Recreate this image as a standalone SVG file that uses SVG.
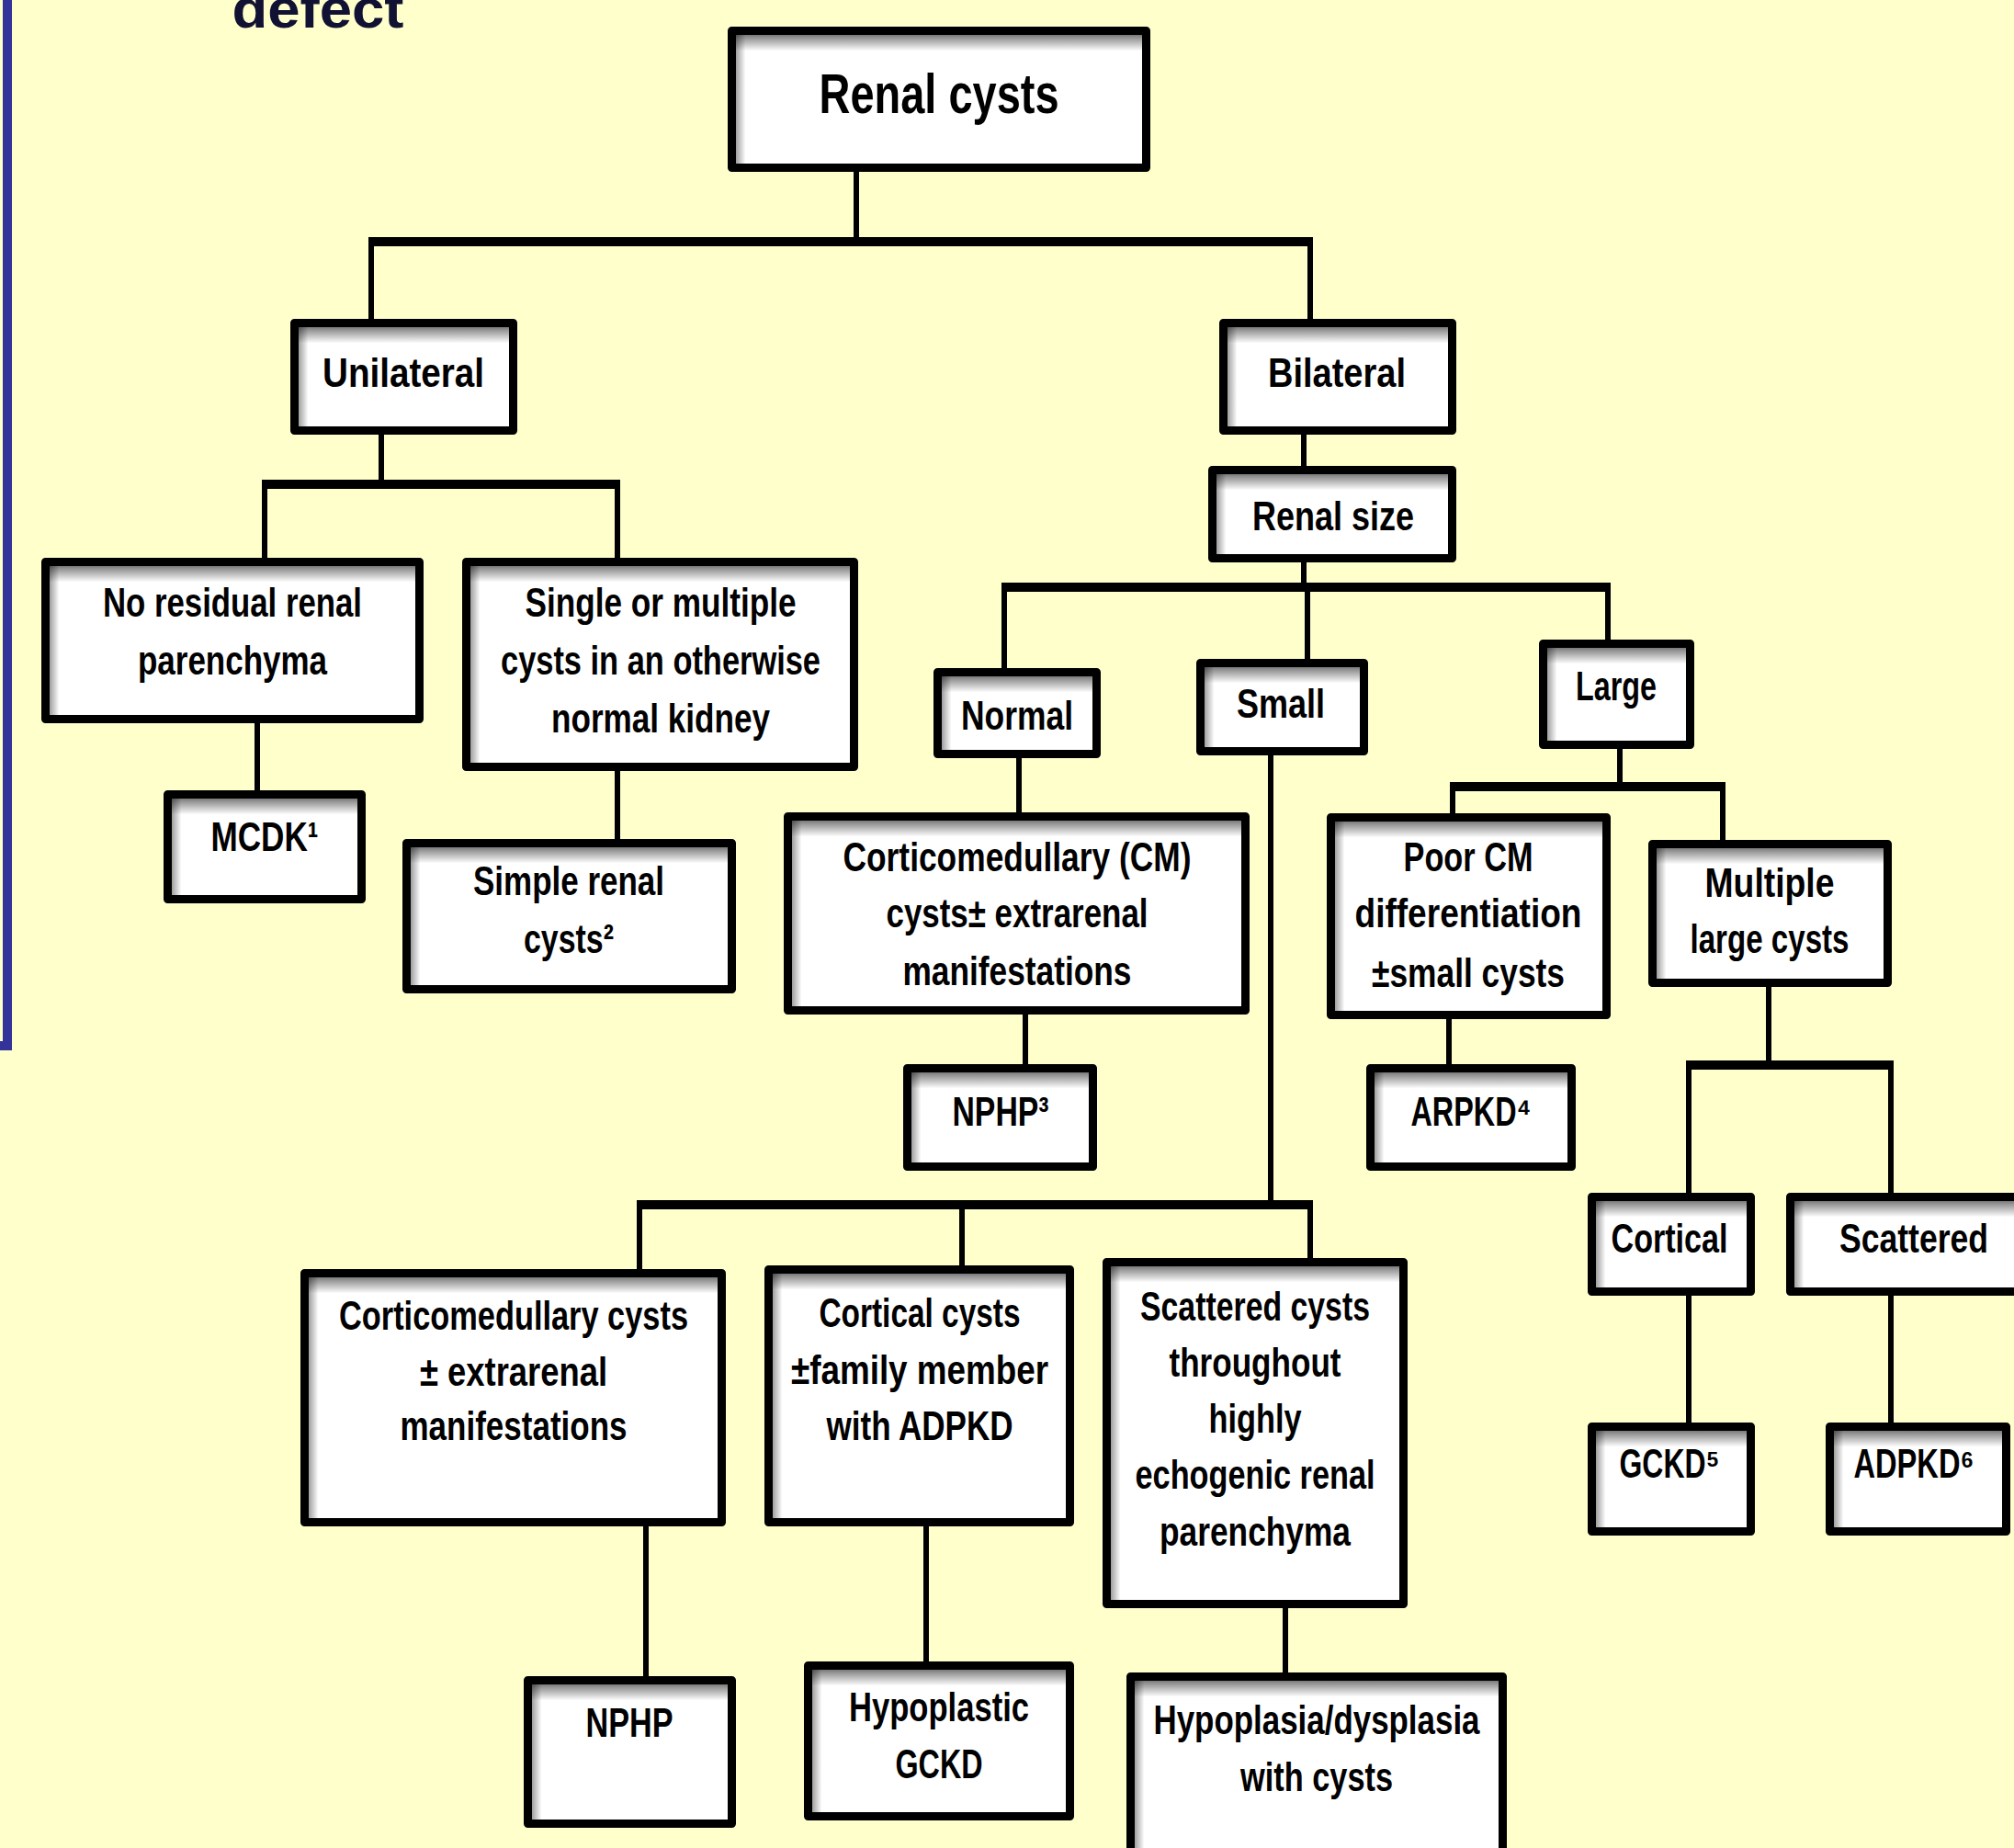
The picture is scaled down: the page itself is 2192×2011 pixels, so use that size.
<svg xmlns="http://www.w3.org/2000/svg" width="2192" height="2011" viewBox="0 0 2192 2011">
<style>
.bg{fill:#fff}
.st{fill:url(#gt)}
.sl{fill:url(#gl)}
.bd{fill:none;stroke:#000;stroke-width:9;stroke-linejoin:round}
.t{font-family:"Liberation Sans Narrow","Liberation Sans",Arial,sans-serif;font-weight:bold;font-size:45px;text-anchor:middle;fill:#000}
.big{font-size:62px}
.v{stroke:#000;stroke-width:6;fill:none}
.h{stroke:#000;stroke-width:10;fill:none}
</style>
<defs>
<linearGradient id="gt" x1="0" y1="0" x2="0" y2="1">
<stop offset="0" stop-color="#000" stop-opacity="0.7"/>
<stop offset="0.3" stop-color="#000" stop-opacity="0.45"/>
<stop offset="1" stop-color="#000" stop-opacity="0"/>
</linearGradient>
<linearGradient id="gl" x1="0" y1="0" x2="1" y2="0">
<stop offset="0" stop-color="#000" stop-opacity="0.6"/>
<stop offset="0.35" stop-color="#000" stop-opacity="0.35"/>
<stop offset="1" stop-color="#000" stop-opacity="0"/>
</linearGradient>
</defs>
<rect x="0" y="0" width="2192" height="2011" fill="#ffffcc"/>
<path d="M8,0 V1138 H0" fill="none" stroke="#333399" stroke-width="10"/>
<text x="346" y="30" font-family="Liberation Sans,Arial,sans-serif" font-weight="bold" font-size="60" text-anchor="middle" fill="#111133" textLength="187" lengthAdjust="spacingAndGlyphs">defect</text>

<g id="connectors">
<path class="v" d="M932,187 V263 M404,263 V347 M1426,263 V347"/>
<path class="h" d="M401,263 H1429"/>
<path class="v" d="M415,473 V527 M288,527 V607 M672,527 V607"/>
<path class="h" d="M285,527 H675"/>
<path class="v" d="M280,787 V860"/>
<path class="v" d="M672,839 V913"/>
<path class="v" d="M1419,473 V507"/>
<path class="v" d="M1419,612 V639 M1093,639 V727 M1423,639 V717 M1750,639 V700"/>
<path class="h" d="M1090,639 H1753"/>
<path class="v" d="M1109,825 V884"/>
<path class="v" d="M1116,1104 V1158"/>
<path class="v" d="M1383,822 V1311 M696,1311 V1381 M1047,1311 V1377 M1426,1311 V1373"/>
<path class="h" d="M693,1311 H1429"/>
<path class="v" d="M1763,815 V856 M1581,856 V885 M1875,856 V914"/>
<path class="h" d="M1578,856 H1878"/>
<path class="v" d="M1577,1109 V1158"/>
<path class="v" d="M1925,1074 V1159 M1838,1159 V1298 M2058,1159 V1298"/>
<path class="h" d="M1835,1159 H2061"/>
<path class="v" d="M1838,1410 V1548 M2058,1410 V1548"/>
<path class="v" d="M703,1661 V1824 M1008,1661 V1808 M1399,1750 V1820"/>
</g>

<g id="n-renal-cysts"><rect class="bg" x="796.5" y="33.5" width="451" height="149"/><rect class="st" x="796.5" y="33.5" width="451" height="22"/><rect class="sl" x="796.5" y="33.5" width="15" height="149"/><rect class="bd" x="796.5" y="33.5" width="451" height="149"/>
<text class="t big" x="1022" y="123" textLength="261" lengthAdjust="spacingAndGlyphs">Renal cysts</text></g>

<g id="n-unilateral"><rect class="bg" x="320.5" y="351.5" width="238" height="117"/><rect class="st" x="320.5" y="351.5" width="238" height="22"/><rect class="sl" x="320.5" y="351.5" width="15" height="117"/><rect class="bd" x="320.5" y="351.5" width="238" height="117"/>
<text class="t" x="439" y="421" textLength="176" lengthAdjust="spacingAndGlyphs">Unilateral</text></g>

<g id="n-no-residual"><rect class="bg" x="49.5" y="611.5" width="407" height="171"/><rect class="st" x="49.5" y="611.5" width="407" height="22"/><rect class="sl" x="49.5" y="611.5" width="15" height="171"/><rect class="bd" x="49.5" y="611.5" width="407" height="171"/>
<text class="t" x="253" y="671" textLength="282" lengthAdjust="spacingAndGlyphs">No residual renal</text>
<text class="t" x="253" y="734" textLength="206" lengthAdjust="spacingAndGlyphs">parenchyma</text></g>

<g id="n-mcdk"><rect class="bg" x="182.5" y="864.5" width="211" height="114"/><rect class="st" x="182.5" y="864.5" width="211" height="22"/><rect class="sl" x="182.5" y="864.5" width="15" height="114"/><rect class="bd" x="182.5" y="864.5" width="211" height="114"/>
<text class="t" x="288" y="926" textLength="117" lengthAdjust="spacingAndGlyphs">MCDK¹</text></g>

<g id="n-single-multiple"><rect class="bg" x="507.5" y="611.5" width="422" height="223"/><rect class="st" x="507.5" y="611.5" width="422" height="22"/><rect class="sl" x="507.5" y="611.5" width="15" height="223"/><rect class="bd" x="507.5" y="611.5" width="422" height="223"/>
<text class="t" x="719" y="671" textLength="295" lengthAdjust="spacingAndGlyphs">Single or multiple</text>
<text class="t" x="719" y="734" textLength="348" lengthAdjust="spacingAndGlyphs">cysts in an otherwise</text>
<text class="t" x="719" y="797" textLength="238" lengthAdjust="spacingAndGlyphs">normal kidney</text></g>

<g id="n-simple-renal"><rect class="bg" x="442.5" y="917.5" width="354" height="159"/><rect class="st" x="442.5" y="917.5" width="354" height="22"/><rect class="sl" x="442.5" y="917.5" width="15" height="159"/><rect class="bd" x="442.5" y="917.5" width="354" height="159"/>
<text class="t" x="619" y="974" textLength="208" lengthAdjust="spacingAndGlyphs">Simple renal</text>
<text class="t" x="619" y="1037" textLength="98" lengthAdjust="spacingAndGlyphs">cysts²</text></g>

<g id="n-bilateral"><rect class="bg" x="1331.5" y="351.5" width="249" height="117"/><rect class="st" x="1331.5" y="351.5" width="249" height="22"/><rect class="sl" x="1331.5" y="351.5" width="15" height="117"/><rect class="bd" x="1331.5" y="351.5" width="249" height="117"/>
<text class="t" x="1455" y="421" textLength="150" lengthAdjust="spacingAndGlyphs">Bilateral</text></g>

<g id="n-renal-size"><rect class="bg" x="1319.5" y="511.5" width="261" height="96"/><rect class="st" x="1319.5" y="511.5" width="261" height="22"/><rect class="sl" x="1319.5" y="511.5" width="15" height="96"/><rect class="bd" x="1319.5" y="511.5" width="261" height="96"/>
<text class="t" x="1451" y="577" textLength="176" lengthAdjust="spacingAndGlyphs">Renal size</text></g>

<g id="n-normal"><rect class="bg" x="1020.5" y="731.5" width="173" height="89"/><rect class="st" x="1020.5" y="731.5" width="173" height="22"/><rect class="sl" x="1020.5" y="731.5" width="15" height="89"/><rect class="bd" x="1020.5" y="731.5" width="173" height="89"/>
<text class="t" x="1107" y="794" textLength="122" lengthAdjust="spacingAndGlyphs">Normal</text></g>

<g id="n-cm-cysts"><rect class="bg" x="857.5" y="888.5" width="498" height="211"/><rect class="st" x="857.5" y="888.5" width="498" height="22"/><rect class="sl" x="857.5" y="888.5" width="15" height="211"/><rect class="bd" x="857.5" y="888.5" width="498" height="211"/>
<text class="t" x="1107" y="948" textLength="379" lengthAdjust="spacingAndGlyphs">Corticomedullary (CM)</text>
<text class="t" x="1107" y="1009" textLength="285" lengthAdjust="spacingAndGlyphs">cysts± extrarenal</text>
<text class="t" x="1107" y="1072" textLength="249" lengthAdjust="spacingAndGlyphs">manifestations</text></g>

<g id="n-nphp3"><rect class="bg" x="987.5" y="1162.5" width="202" height="107"/><rect class="st" x="987.5" y="1162.5" width="202" height="22"/><rect class="sl" x="987.5" y="1162.5" width="15" height="107"/><rect class="bd" x="987.5" y="1162.5" width="202" height="107"/>
<text class="t" x="1089" y="1225" textLength="105" lengthAdjust="spacingAndGlyphs">NPHP³</text></g>

<g id="n-small"><rect class="bg" x="1306.5" y="721.5" width="178" height="96"/><rect class="st" x="1306.5" y="721.5" width="178" height="22"/><rect class="sl" x="1306.5" y="721.5" width="15" height="96"/><rect class="bd" x="1306.5" y="721.5" width="178" height="96"/>
<text class="t" x="1394" y="781" textLength="96" lengthAdjust="spacingAndGlyphs">Small</text></g>

<g id="n-large"><rect class="bg" x="1679.5" y="700.5" width="160" height="110"/><rect class="st" x="1679.5" y="700.5" width="160" height="22"/><rect class="sl" x="1679.5" y="700.5" width="15" height="110"/><rect class="bd" x="1679.5" y="700.5" width="160" height="110"/>
<text class="t" x="1759" y="762" textLength="88" lengthAdjust="spacingAndGlyphs">Large</text></g>

<g id="n-poor-cm"><rect class="bg" x="1448.5" y="889.5" width="300" height="215"/><rect class="st" x="1448.5" y="889.5" width="300" height="22"/><rect class="sl" x="1448.5" y="889.5" width="15" height="215"/><rect class="bd" x="1448.5" y="889.5" width="300" height="215"/>
<text class="t" x="1598" y="948" textLength="141" lengthAdjust="spacingAndGlyphs">Poor CM</text>
<text class="t" x="1598" y="1009" textLength="247" lengthAdjust="spacingAndGlyphs">differentiation</text>
<text class="t" x="1598" y="1074" textLength="210" lengthAdjust="spacingAndGlyphs">±small cysts</text></g>

<g id="n-arpkd"><rect class="bg" x="1491.5" y="1162.5" width="219" height="107"/><rect class="st" x="1491.5" y="1162.5" width="219" height="22"/><rect class="sl" x="1491.5" y="1162.5" width="15" height="107"/><rect class="bd" x="1491.5" y="1162.5" width="219" height="107"/>
<text class="t" x="1601" y="1225" textLength="131" lengthAdjust="spacingAndGlyphs">ARPKD⁴</text></g>

<g id="n-multiple-large"><rect class="bg" x="1798.5" y="918.5" width="256" height="151"/><rect class="st" x="1798.5" y="918.5" width="256" height="22"/><rect class="sl" x="1798.5" y="918.5" width="15" height="151"/><rect class="bd" x="1798.5" y="918.5" width="256" height="151"/>
<text class="t" x="1926" y="976" textLength="141" lengthAdjust="spacingAndGlyphs">Multiple</text>
<text class="t" x="1926" y="1037" textLength="173" lengthAdjust="spacingAndGlyphs">large cysts</text></g>

<g id="n-cortical"><rect class="bg" x="1732.5" y="1302.5" width="173" height="103"/><rect class="st" x="1732.5" y="1302.5" width="173" height="22"/><rect class="sl" x="1732.5" y="1302.5" width="15" height="103"/><rect class="bd" x="1732.5" y="1302.5" width="173" height="103"/>
<text class="t" x="1817" y="1363" textLength="127" lengthAdjust="spacingAndGlyphs">Cortical</text></g>

<g id="n-scattered"><rect class="bg" x="1948.5" y="1302.5" width="260" height="103"/><rect class="st" x="1948.5" y="1302.5" width="260" height="22"/><rect class="sl" x="1948.5" y="1302.5" width="15" height="103"/><rect class="bd" x="1948.5" y="1302.5" width="260" height="103"/>
<text class="t" x="2083" y="1363" textLength="162" lengthAdjust="spacingAndGlyphs">Scattered</text></g>

<g id="n-gckd5"><rect class="bg" x="1732.5" y="1552.5" width="173" height="114"/><rect class="st" x="1732.5" y="1552.5" width="173" height="22"/><rect class="sl" x="1732.5" y="1552.5" width="15" height="114"/><rect class="bd" x="1732.5" y="1552.5" width="173" height="114"/>
<text class="t" x="1817" y="1608" textLength="109" lengthAdjust="spacingAndGlyphs">GCKD⁵</text></g>

<g id="n-adpkd6"><rect class="bg" x="1991.5" y="1552.5" width="192" height="114"/><rect class="st" x="1991.5" y="1552.5" width="192" height="22"/><rect class="sl" x="1991.5" y="1552.5" width="15" height="114"/><rect class="bd" x="1991.5" y="1552.5" width="192" height="114"/>
<text class="t" x="2083" y="1608" textLength="131" lengthAdjust="spacingAndGlyphs">ADPKD⁶</text></g>

<g id="n-cmc-extrarenal"><rect class="bg" x="331.5" y="1385.5" width="454" height="271"/><rect class="st" x="331.5" y="1385.5" width="454" height="22"/><rect class="sl" x="331.5" y="1385.5" width="15" height="271"/><rect class="bd" x="331.5" y="1385.5" width="454" height="271"/>
<text class="t" x="559" y="1447" textLength="380" lengthAdjust="spacingAndGlyphs">Corticomedullary cysts</text>
<text class="t" x="559" y="1508" textLength="204" lengthAdjust="spacingAndGlyphs">± extrarenal</text>
<text class="t" x="559" y="1567" textLength="247" lengthAdjust="spacingAndGlyphs">manifestations</text></g>

<g id="n-cortical-cysts"><rect class="bg" x="836.5" y="1381.5" width="328" height="275"/><rect class="st" x="836.5" y="1381.5" width="328" height="22"/><rect class="sl" x="836.5" y="1381.5" width="15" height="275"/><rect class="bd" x="836.5" y="1381.5" width="328" height="275"/>
<text class="t" x="1001" y="1444" textLength="219" lengthAdjust="spacingAndGlyphs">Cortical cysts</text>
<text class="t" x="1001" y="1506" textLength="280" lengthAdjust="spacingAndGlyphs">±family member</text>
<text class="t" x="1001" y="1567" textLength="203" lengthAdjust="spacingAndGlyphs">with ADPKD</text></g>

<g id="n-scattered-cysts"><rect class="bg" x="1204.5" y="1373.5" width="323" height="372"/><rect class="st" x="1204.5" y="1373.5" width="323" height="22"/><rect class="sl" x="1204.5" y="1373.5" width="15" height="372"/><rect class="bd" x="1204.5" y="1373.5" width="323" height="372"/>
<text class="t" x="1366" y="1437" textLength="250" lengthAdjust="spacingAndGlyphs">Scattered cysts</text>
<text class="t" x="1366" y="1498" textLength="187" lengthAdjust="spacingAndGlyphs">throughout</text>
<text class="t" x="1366" y="1559" textLength="101" lengthAdjust="spacingAndGlyphs">highly</text>
<text class="t" x="1366" y="1620" textLength="261" lengthAdjust="spacingAndGlyphs">echogenic renal</text>
<text class="t" x="1366" y="1682" textLength="208" lengthAdjust="spacingAndGlyphs">parenchyma</text></g>

<g id="n-nphp"><rect class="bg" x="574.5" y="1828.5" width="222" height="156"/><rect class="st" x="574.5" y="1828.5" width="222" height="22"/><rect class="sl" x="574.5" y="1828.5" width="15" height="156"/><rect class="bd" x="574.5" y="1828.5" width="222" height="156"/>
<text class="t" x="685" y="1890" textLength="95" lengthAdjust="spacingAndGlyphs">NPHP</text></g>

<g id="n-hypoplastic-gckd"><rect class="bg" x="879.5" y="1812.5" width="285" height="164"/><rect class="st" x="879.5" y="1812.5" width="285" height="22"/><rect class="sl" x="879.5" y="1812.5" width="15" height="164"/><rect class="bd" x="879.5" y="1812.5" width="285" height="164"/>
<text class="t" x="1022" y="1873" textLength="196" lengthAdjust="spacingAndGlyphs">Hypoplastic</text>
<text class="t" x="1022" y="1935" textLength="95" lengthAdjust="spacingAndGlyphs">GCKD</text></g>

<g id="n-hypoplasia-dysplasia"><rect class="bg" x="1230.5" y="1824.5" width="405" height="220"/><rect class="st" x="1230.5" y="1824.5" width="405" height="22"/><rect class="sl" x="1230.5" y="1824.5" width="15" height="220"/><rect class="bd" x="1230.5" y="1824.5" width="405" height="220"/>
<text class="t" x="1433" y="1887" textLength="355" lengthAdjust="spacingAndGlyphs">Hypoplasia/dysplasia</text>
<text class="t" x="1433" y="1949" textLength="166" lengthAdjust="spacingAndGlyphs">with cysts</text></g>
</svg>
